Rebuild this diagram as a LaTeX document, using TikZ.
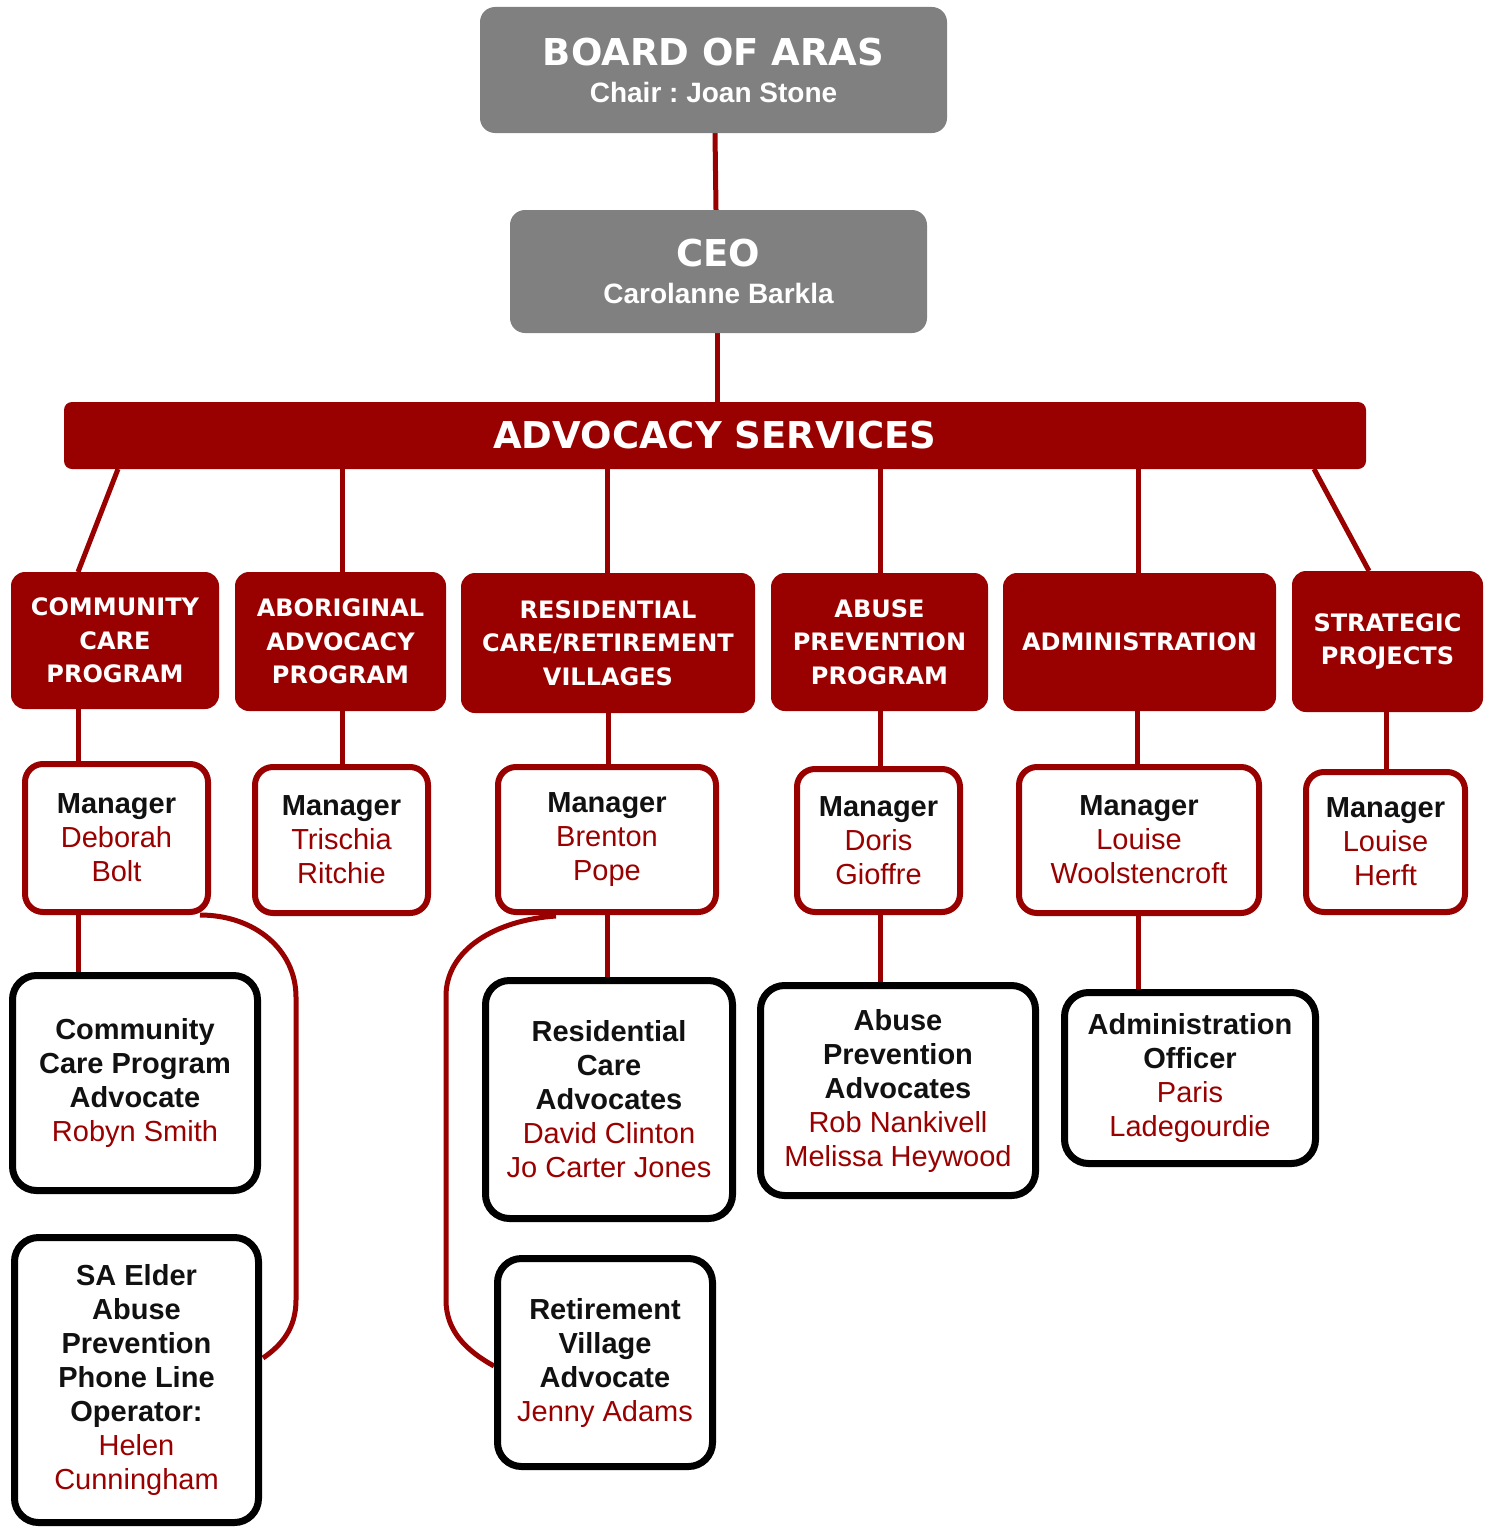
\documentclass[tikz,border=0pt]{standalone}
\usepackage{fontspec}
\setmainfont{Liberation Sans}
\newfontfamily\heavyfont{DejaVu Sans}
\usetikzlibrary{backgrounds}
\frenchspacing
\definecolor{arasred}{HTML}{990000}
\definecolor{arasgrey}{HTML}{808080}
\definecolor{inkblack}{HTML}{111111}
\newcommand\nm[1]{\textcolor{arasred}{#1}}
\newcommand\tb[1]{\textbf{#1}}
\newcommand\bigheavy[1]{{\heavyfont\bfseries\fontsize{37}{37}\selectfont #1}}
\tikzset{
  greybox/.style={fill=arasgrey, rounded corners=15, inner sep=0, text=white, align=center,
    font=\bfseries\fontsize{28}{37}\selectfont},
  advbar/.style={fill=arasred, rounded corners=8, inner sep=0, text=white, align=center,
    font=\heavyfont\bfseries\fontsize{37}{40}\selectfont},
  deptbox/.style={fill=arasred, rounded corners=14, inner sep=0, text=white, align=center,
    font=\heavyfont\bfseries\fontsize{24}{33.5}\selectfont},
  mgrbox/.style={draw=arasred, line width=6, fill=white, rounded corners=18, inner sep=0,
    align=center, text=inkblack, font=\fontsize{29}{34}\selectfont},
  staffbox/.style={draw=black, line width=7, fill=white, rounded corners=24, inner sep=0,
    align=center, text=inkblack, font=\fontsize{29}{34}\selectfont},
  conn/.style={draw=arasred, line width=5},
}
\begin{document}
\begin{tikzpicture}[x=1pt,y=-1pt]
\useasboundingbox (0,0) rectangle (1494,1528);

% top
\node[greybox, minimum width=467, minimum height=126, text depth=-7pt] (board) at (713.5,70)
  {\bigheavy{BOARD OF ARAS}\\Chair : Joan Stone};
\node[greybox, minimum width=417, minimum height=123, text depth=-7pt] (ceo) at (718.5,271.5)
  {\bigheavy{CEO}\\Carolanne Barkla};
\node[advbar, minimum width=1302, minimum height=67] (adv) at (715,435.5) {ADVOCACY SERVICES};

% departments
\node[deptbox, minimum width=208, minimum height=137] (d1) at (115,640.5) {COMMUNITY\\CARE\\PROGRAM};
\node[deptbox, minimum width=211, minimum height=139] (d2) at (340.5,641.5) {ABORIGINAL\\ADVOCACY\\PROGRAM};
\node[deptbox, minimum width=294, minimum height=140] (d3) at (608,643) {RESIDENTIAL\\CARE/RETIREMENT\\VILLAGES};
\node[deptbox, minimum width=217, minimum height=138] (d4) at (879.5,642) {ABUSE\\PREVENTION\\PROGRAM};
\node[deptbox, minimum width=273, minimum height=138] (d5) at (1139.5,642) {ADMINISTRATION};
\node[deptbox, minimum width=191, minimum height=141] (d6) at (1387.5,641.5) {STRATEGIC\\PROJECTS};

% managers
\node[mgrbox, minimum width=183, minimum height=148] (m1) at (116.5,838) {\tb{Manager}\\\nm{Deborah}\\\nm{Bolt}};
\node[mgrbox, minimum width=173, minimum height=146] (m2) at (341.5,840) {\tb{Manager}\\\nm{Trischia}\\\nm{Ritchie}};
\node[mgrbox, minimum width=218, minimum height=145] (m3) at (607,839.5) {\tb{Manager}\\\nm{Brenton}\\\nm{Pope}};
\node[mgrbox, minimum width=163, minimum height=143] (m4) at (878.5,840.5) {\tb{Manager}\\\nm{Doris}\\\nm{Gioffre}};
\node[mgrbox, minimum width=240, minimum height=146] (m5) at (1139,840) {\tb{Manager}\\\nm{Louise}\\\nm{Woolstencroft}};
\node[mgrbox, minimum width=159, minimum height=140] (m6) at (1385.5,842) {\tb{Manager}\\\nm{Louise}\\\nm{Herft}};

% staff
\node[staffbox, minimum width=245, minimum height=215] (s1) at (135,1083)
  {\tb{Community}\\\tb{Care Program}\\\tb{Advocate}\\\nm{Robyn Smith}};
\node[staffbox, minimum width=244, minimum height=285] (s2) at (136.5,1380)
  {\tb{SA Elder}\\\tb{Abuse}\\\tb{Prevention}\\\tb{Phone Line}\\\tb{Operator:}\\\nm{Helen}\\\nm{Cunningham}};
\node[staffbox, minimum width=247, minimum height=238] (s3) at (609,1099.5)
  {\tb{Residential}\\\tb{Care}\\\tb{Advocates}\\\nm{David Clinton}\\\nm{Jo Carter Jones}};
\node[staffbox, minimum width=215, minimum height=208] (s4) at (605,1362.5)
  {\tb{Retirement}\\\tb{Village}\\\tb{Advocate}\\\nm{Jenny Adams}};
\node[staffbox, minimum width=275, minimum height=210] (s5) at (898,1090.5)
  {\tb{Abuse}\\\tb{Prevention}\\\tb{Advocates}\\\nm{Rob Nankivell}\\\nm{Melissa Heywood}};
\node[staffbox, minimum width=251, minimum height=171] (s6) at (1190,1078)
  {\tb{Administration}\\\tb{Officer}\\\nm{Paris}\\\nm{Ladegourdie}};

% connector helper coordinates
\coordinate (c1a) at (118,469);  \coordinate (c1b) at (78,572);
\coordinate (c6a) at (1314,469); \coordinate (c6b) at (1369,571);
\coordinate (k1a) at (200,915);  \coordinate (k1b) at (296,997);
\coordinate (k1c) at (296,1300); \coordinate (k1d) at (263,1358);
\coordinate (k3a) at (556,916);  \coordinate (k3b) at (446,996);
\coordinate (k3c) at (446,1300); \coordinate (k3d) at (494,1366);

\begin{pgfonlayer}{background}
\draw[conn] (board.south -| 715,0) -- (ceo.north -| 716,0);
\draw[conn] (ceo.south -| 717,0) -- (adv.north -| 717,0);
\draw[conn] (c1a) -- (c1b);
\draw[conn] (adv.south -| 342,0) -- (d2.north -| 342,0);
\draw[conn] (adv.south -| 607,0) -- (d3.north -| 607,0);
\draw[conn] (adv.south -| 880,0) -- (d4.north -| 880,0);
\draw[conn] (adv.south -| 1138,0) -- (d5.north -| 1138,0);
\draw[conn] (c6a) -- (c6b);
\draw[conn] (d1.south -| 78,0) -- (m1.north -| 78,0);
\draw[conn] (d2.south -| 342,0) -- (m2.north -| 342,0);
\draw[conn] (d3.south -| 608,0) -- (m3.north -| 608,0);
\draw[conn] (d4.south -| 880,0) -- (m4.north -| 880,0);
\draw[conn] (d5.south -| 1137,0) -- (m5.north -| 1137,0);
\draw[conn] (d6.south -| 1386,0) -- (m6.north -| 1386,0);
\draw[conn] (m1.south -| 78,0) -- (s1.north -| 78,0);
\draw[conn] (m3.south -| 607,0) -- (s3.north -| 607,0);
\draw[conn] (m4.south -| 880,0) -- (s5.north -| 880,0);
\draw[conn] (m5.south -| 1138,0) -- (s6.north -| 1138,0);
\draw[conn] (k1a) .. controls (255,915) and (296,950) .. (k1b) -- (k1c)
  .. controls (296,1328) and (282,1345) .. (k1d);
\draw[conn] (k3a) .. controls (495,920) and (446,950) .. (k3b) -- (k3c)
  .. controls (446,1330) and (465,1350) .. (k3d);
\end{pgfonlayer}
\end{tikzpicture}
\end{document}
